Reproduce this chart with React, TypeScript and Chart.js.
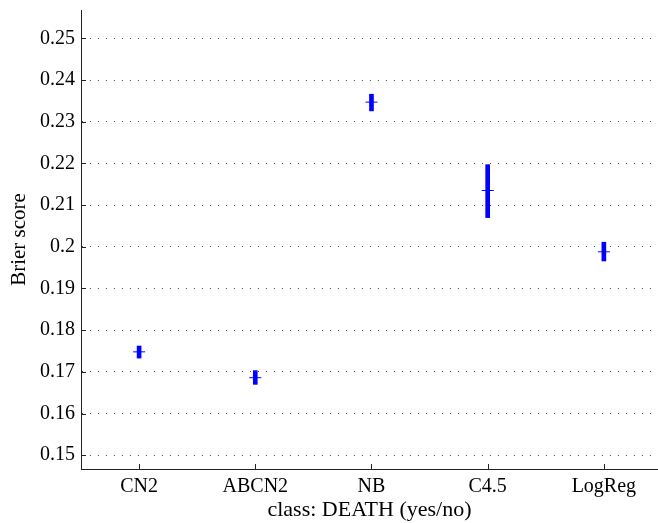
import React, { useEffect, useRef } from "react";
import { Chart, registerables } from "chart.js";

Chart.register(...registerables);

const categories = ["CN2", "ABCN2", "NB", "C4.5", "LogReg"];
const positions = [1, 2, 3, 4, 5];
const means = [0.1748, 0.1686, 0.2347, 0.2135, 0.1988];
const lows = [0.1733, 0.1670, 0.2326, 0.2070, 0.1966];
const highs = [0.1762, 0.1703, 0.2366, 0.2197, 0.2011];
const yTicks = [0.15, 0.16, 0.17, 0.18, 0.19, 0.2, 0.21, 0.22, 0.23, 0.24, 0.25];

const FONT = "'Liberation Serif', 'Times New Roman', serif";

const innerTicks = {
  id: "innerTicks",
  afterDraw(chart: any) {
    const { ctx, chartArea, scales } = chart;
    ctx.save();
    ctx.strokeStyle = "#222";
    ctx.lineWidth = 1;
    ctx.beginPath();
    for (const t of yTicks) {
      const y = Math.round(scales.y.getPixelForValue(t)) + 0.5;
      ctx.moveTo(chartArea.left, y);
      ctx.lineTo(chartArea.left + 5, y);
    }
    for (const p of positions) {
      const x = Math.round(scales.x.getPixelForValue(p)) + 0.5;
      ctx.moveTo(x, chartArea.bottom);
      ctx.lineTo(x, chartArea.bottom - 5);
    }
    ctx.stroke();
    ctx.restore();
  },
};

export default function App() {
  const ref = useRef<HTMLCanvasElement>(null);
  useEffect(() => {
    if (!ref.current) return;
    const chart = new Chart(ref.current, {
      type: "bar",
      data: {
        datasets: [
          {
            type: "bar",
            data: positions.map((p, i) => ({ x: p, y: [lows[i], highs[i]] })) as any,
            backgroundColor: "#0000ff",
            borderWidth: 0,
            barThickness: 4,
            order: 2,
          },
          {
            type: "scatter",
            data: positions.map((p, i) => ({ x: p, y: means[i] })),
            pointStyle: "line",
            pointRadius: 6,
            borderColor: "#0000ff",
            borderWidth: 1,
            showLine: false,
            clip: false,
            order: 1,
          } as any,
        ],
      },
      options: {
        animation: false,
        responsive: false,
        layout: { autoPadding: false, padding: { top: 10, right: 0, left: 0, bottom: 0 } },
        plugins: { legend: { display: false }, tooltip: { enabled: false } },
        scales: {
          x: {
            type: "linear",
            offset: false,
            min: 0.5,
            max: 5.466,
            afterBuildTicks: (s: any) => {
              s.ticks = positions.map((v) => ({ value: v }));
            },
            afterFit: (s: any) => {
              s.height = 54;
              s.paddingLeft = 0;
              s.paddingRight = 0;
            },
            ticks: {
              callback: (v: any) => categories[Number(v) - 1] ?? "",
              color: "#000",
              font: { family: FONT, size: 20 },
              padding: 6,
              maxRotation: 0,
              autoSkip: false,
            },
            grid: { display: false, drawTicks: false, offset: false },
            border: { display: true, color: "#222", width: 1 },
            title: {
              display: true,
              text: "class: DEATH (yes/no)",
              color: "#000",
              font: { family: FONT, size: 22 },
              padding: { top: 0, bottom: 0 },
            },
          },
          y: {
            type: "linear",
            min: 0.1467,
            max: 0.2568,
            afterBuildTicks: (s: any) => {
              s.ticks = yTicks.map((v) => ({ value: v }));
            },
            afterFit: (s: any) => {
              s.width = 81;
              s.paddingTop = 0;
              s.paddingBottom = 0;
            },
            ticks: {
              callback: (v: any) => String(Number(Number(v).toFixed(3))),
              color: "#000",
              font: { family: FONT, size: 20 },
              padding: 6,
            },
            grid: { color: "#555", lineWidth: 1, drawTicks: false },
            border: { display: true, color: "#222", width: 1, dash: [1, 7] },
            title: {
              display: true,
              text: "Brier score",
              color: "#000",
              font: { family: FONT, size: 21 },
              padding: { top: 7, bottom: 0 },
            },
          },
        },
      },
      plugins: [innerTicks],
    } as any);
    return () => chart.destroy();
  }, []);
  return (
    <div style={{ position: "fixed", left: 0, top: 0, width: 658, height: 523, background: "#fff" }}>
      <canvas ref={ref} width={658} height={523} style={{ display: "block" }} />
    </div>
  );
}
